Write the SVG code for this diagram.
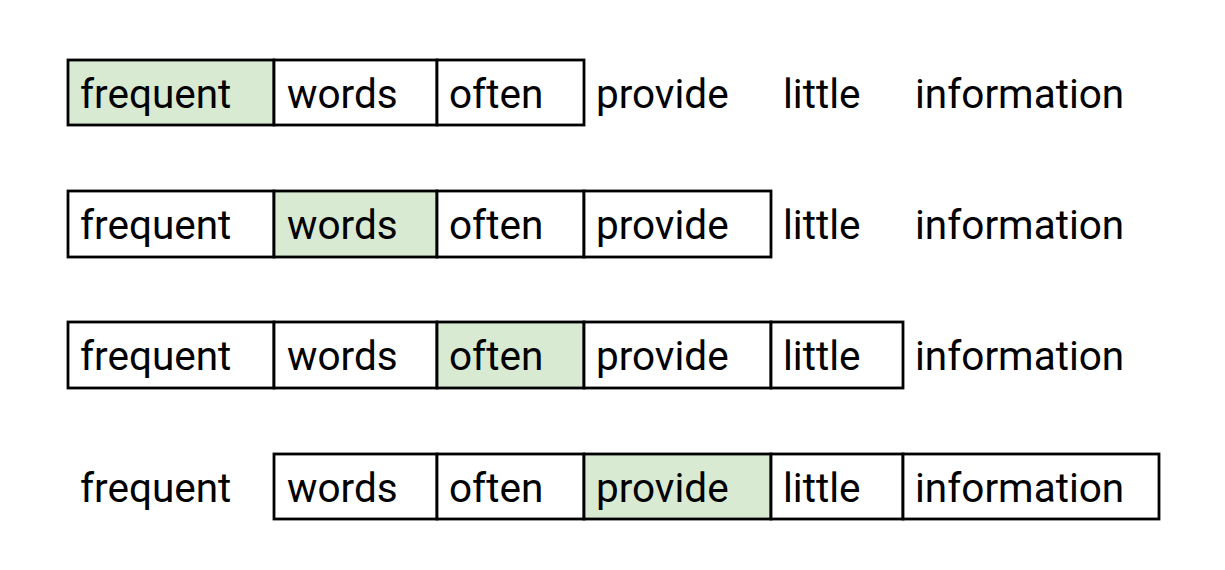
<svg xmlns="http://www.w3.org/2000/svg" width="1225" height="570" viewBox="0 0 1225 570">
<style>
.b{fill:#ffffff;stroke:#000000;stroke-width:2.8}
.g{fill:#d9ead3;stroke:#000000;stroke-width:2.8}
text{font-family:Roboto,"Liberation Sans",sans-serif;font-size:40.5px;fill:#000000}
</style>
<rect width="1225" height="570" fill="#ffffff"/>
<g id="row1">
<g id="r1-frequent"><rect class="g" x="68" y="60" width="206" height="65"/><text x="80" y="108">frequent</text></g>
<g id="r1-words"><rect class="b" x="274" y="60" width="163" height="65"/><text x="287" y="108">words</text></g>
<g id="r1-often"><rect class="b" x="437" y="60" width="147" height="65"/><text x="449" y="108">often</text></g>
<g id="r1-provide"><text x="596" y="108">provide</text></g>
<g id="r1-little"><text x="783" y="108">little</text></g>
<g id="r1-information"><text x="915" y="108">information</text></g>
</g>
<g id="row2">
<g id="r2-frequent"><rect class="b" x="68" y="191" width="206" height="66"/><text x="80" y="239">frequent</text></g>
<g id="r2-words"><rect class="g" x="274" y="191" width="163" height="66"/><text x="287" y="239">words</text></g>
<g id="r2-often"><rect class="b" x="437" y="191" width="147" height="66"/><text x="449" y="239">often</text></g>
<g id="r2-provide"><rect class="b" x="584" y="191" width="187" height="66"/><text x="596" y="239">provide</text></g>
<g id="r2-little"><text x="783" y="239">little</text></g>
<g id="r2-information"><text x="915" y="239">information</text></g>
</g>
<g id="row3">
<g id="r3-frequent"><rect class="b" x="68" y="322" width="206" height="66"/><text x="80" y="370">frequent</text></g>
<g id="r3-words"><rect class="b" x="274" y="322" width="163" height="66"/><text x="287" y="370">words</text></g>
<g id="r3-often"><rect class="g" x="437" y="322" width="147" height="66"/><text x="449" y="370">often</text></g>
<g id="r3-provide"><rect class="b" x="584" y="322" width="187" height="66"/><text x="596" y="370">provide</text></g>
<g id="r3-little"><rect class="b" x="771" y="322" width="132" height="66"/><text x="783" y="370">little</text></g>
<g id="r3-information"><text x="915" y="370">information</text></g>
</g>
<g id="row4">
<g id="r4-frequent"><text x="80" y="502">frequent</text></g>
<g id="r4-words"><rect class="b" x="274" y="454" width="163" height="65"/><text x="287" y="502">words</text></g>
<g id="r4-often"><rect class="b" x="437" y="454" width="147" height="65"/><text x="449" y="502">often</text></g>
<g id="r4-provide"><rect class="g" x="584" y="454" width="187" height="65"/><text x="596" y="502">provide</text></g>
<g id="r4-little"><rect class="b" x="771" y="454" width="132" height="65"/><text x="783" y="502">little</text></g>
<g id="r4-information"><rect class="b" x="903" y="454" width="256" height="65"/><text x="915" y="502">information</text></g>
</g>
<g id="connectors"></g>
</svg>
